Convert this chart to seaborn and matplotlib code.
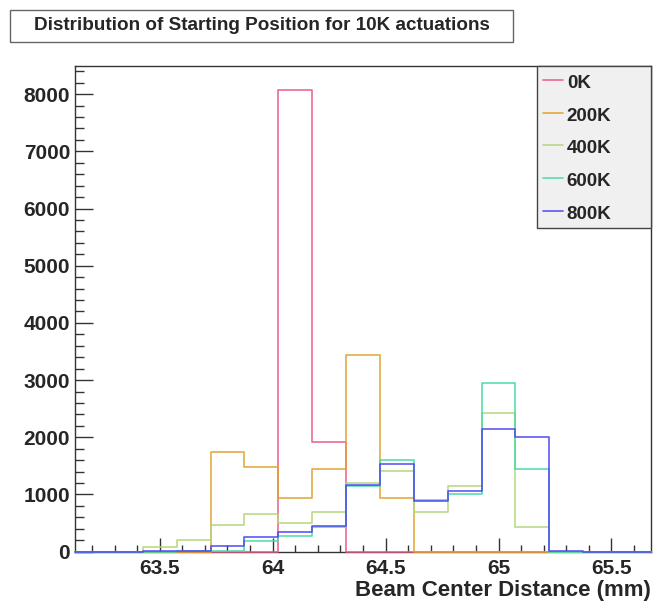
import matplotlib
matplotlib.use("Agg")
import matplotlib.pyplot as plt
from matplotlib.patches import Rectangle
from matplotlib.ticker import MultipleLocator, FormatStrFormatter
import numpy as np
import pandas as pd
import seaborn as sns

# histogram binning (mm): 17 bins of 0.15 starting at 63.125
x_start = 63.125
bin_width = 0.15
n_bins = 17

labels = ["0K", "200K", "400K", "600K", "800K"]
counts_0k = [0, 0, 0, 0, 0, 0, 8080, 1910, 0, 0, 0, 0, 0, 0, 0, 0, 0]
counts_200k = [0, 0, 0, 0, 1735, 1485, 935, 1440, 3440, 935, 0, 0, 0, 0, 0, 0, 0]
counts_400k = [0, 0, 85, 205, 460, 665, 500, 700, 1195, 1410, 690, 1145, 2425, 440, 0, 0, 0]
counts_600k = [0, 0, 0, 5, 20, 185, 270, 430, 1140, 1595, 905, 1010, 2955, 1440, 0, 0, 0]
counts_800k = [0, 0, 5, 20, 95, 250, 350, 445, 1165, 1530, 885, 1060, 2150, 2000, 20, 0, 0]
colors = ["#e95b86", "#e3a12f", "#b3d67a", "#45dba8", "#4f45f2"]

edges = x_start + bin_width * np.arange(n_bins + 1)

series = [counts_0k, counts_200k, counts_400k, counts_600k, counts_800k]
rows = []
for lab, counts in zip(labels, series):
    # step outline: repeat the last bin so the final edge is drawn
    for x, y in zip(edges, list(counts) + [counts[-1]]):
        rows.append({"edge": x, "count": y, "run": lab})
df = pd.DataFrame(rows)

sns.set_style("white")
plt.rcParams['font.family'] = ['Liberation Sans', 'DejaVu Sans']
plt.rcParams['font.weight'] = 'bold'

fig = plt.figure(figsize=(6.54, 6.03), dpi=100)
ax = fig.add_axes([0.1147, 0.0851, 0.8807, 0.8047])

for lab, col in zip(labels, colors):
    sns.lineplot(data=df[df["run"] == lab], x="edge", y="count", drawstyle="steps-post",
                 estimator=None, color=col, linewidth=1.2, alpha=0.9, label=lab,
                 zorder=3, clip_on=False, ax=ax)

ax.set_xlim(edges[0], edges[-1])
ax.set_ylim(0, max(counts_0k) * 1.05)
ax.set_ylabel("")
ax.set_xlabel("Beam Center Distance (mm)", fontsize=16, fontweight="bold")
ax.xaxis.set_label_coords(1.0, -0.059)
ax.xaxis.label.set_ha("right")
ax.xaxis.label.set_va("top")

ax.xaxis.set_major_locator(MultipleLocator(0.5))
ax.xaxis.set_minor_locator(MultipleLocator(0.1))
ax.xaxis.set_major_formatter(FormatStrFormatter("%g"))
ax.yaxis.set_major_locator(MultipleLocator(1000))
ax.yaxis.set_minor_locator(MultipleLocator(200))
ax.tick_params(axis="both", which="both", direction="in", color="#333333",
               labelsize=15, top=False, right=False, left=True, bottom=True)
ax.tick_params(axis="y", which="major", length=12.6, width=1, pad=3.6)
ax.tick_params(axis="y", which="minor", length=6.3, width=1)
ax.tick_params(axis="x", which="major", length=10.4, width=1, pad=5)
ax.tick_params(axis="x", which="minor", length=5.2, width=1)
for s in ax.spines.values():
    s.set_color("#333333")
    s.set_linewidth(1)

leg = ax.legend(loc="upper left", bbox_to_anchor=(0.802, 0.669, 0.198, 0.331),
                mode="expand", fontsize=13.5, frameon=True, fancybox=False,
                handlelength=1.07, handleheight=1.22, handletextpad=0.22,
                labelspacing=0.67, borderpad=0.3, borderaxespad=0)
leg.set_zorder(5)
leg.get_frame().set_facecolor("#f0f0f0")
leg.get_frame().set_edgecolor("#444444")
leg.get_frame().set_linewidth(1)
leg.get_frame().set_alpha(1)
for t in leg.get_texts():
    t.set_fontweight("bold")

# title box
fig.patches.append(Rectangle((0.0153, 0.9308), 0.769, 0.0534, transform=fig.transFigure,
                             facecolor="white", edgecolor="#666666", linewidth=1))
fig.text(0.3998, 0.9575, "Distribution of Starting Position for 10K actuations",
         ha="center", va="center", fontsize=13.6, fontweight="bold")

fig.savefig("out.png", dpi=100)
